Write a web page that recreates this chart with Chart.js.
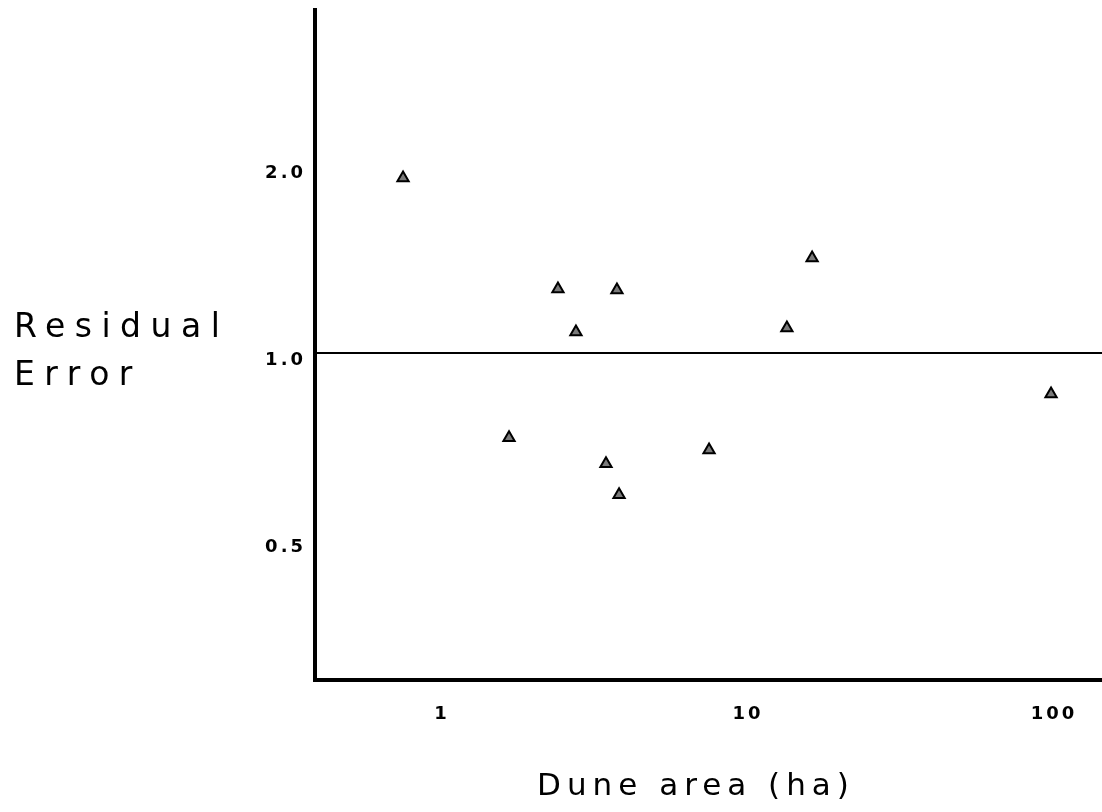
<!DOCTYPE html>
<html>
<head>
<meta charset="utf-8">
<script src="https://cdn.jsdelivr.net/npm/chart.js@4.4.1/dist/chart.umd.min.js"></script>
<style>
  html, body { margin: 0; padding: 0; background: #fff; }
  canvas { display: block; }
</style>
</head>
<body>
<canvas id="residualChart" width="1102" height="812"></canvas>
<script>
// 데이터
const areaHa   = [0.746, 1.656, 2.393, 2.74, 3.435, 3.73, 3.79, 7.46, 13.4, 16.2, 97.8];
const residual = [1.913, 0.730, 1.268, 1.081, 0.663, 1.263, 0.591, 0.698, 1.097, 1.422, 0.859];

const xTicks = [1, 10, 100];
const xTickLabels = ["1", "10", "100"];
const yTicks = [0.5, 1.0, 2.0];
const yTickLabels = ["0.5", "1.0", "2.0"];

// 축 범위
const xMin = 0.3846, xMax = 143.5;
const yMin = 0.2975, yMax = 3.566;
const refLine = 1.0;

const FONT = "'DejaVu Sans', sans-serif";

// 축 제목 + 자간
const titlesPlugin = {
  id: "titles",
  beforeDraw(chart) {
    chart.ctx.letterSpacing = "3px";
  },
  afterDraw(chart) {
    const ctx = chart.ctx;
    ctx.save();
    ctx.fillStyle = "#000";
    ctx.textBaseline = "alphabetic";
    ctx.font = "33px " + FONT;
    ctx.letterSpacing = "9.5px";
    ctx.textAlign = "left";
    ctx.fillText("Residual", 14, 337);
    ctx.fillText("Error", 14, 385);
    ctx.font = "31px " + FONT;
    ctx.letterSpacing = "6px";
    ctx.textAlign = "center";
    ctx.fillText("Dune area (ha)", 696, 795);
    ctx.restore();
  }
};

const points = areaHa.map((x, i) => ({ x, y: residual[i] }));

new Chart(document.getElementById("residualChart"), {
  type: "scatter",
  data: {
    datasets: [
      {
        data: points,
        pointStyle: "triangle",
        pointRadius: 6.5,
        pointBackgroundColor: "#7a7a7a",
        pointBorderColor: "#000",
        pointBorderWidth: 2
      },
      {
        type: "line",
        data: [{ x: xMin, y: refLine }, { x: xMax, y: refLine }],
        borderColor: "#000",
        borderWidth: 2,
        pointRadius: 0,
        fill: false
      }
    ]
  },
  options: {
    responsive: false,
    animation: false,
    devicePixelRatio: 1,
    layout: { autoPadding: false, padding: { top: 10, left: 0, right: 0, bottom: 0 } },
    plugins: { legend: { display: false }, tooltip: { enabled: false } },
    scales: {
      x: {
        type: "logarithmic",
        min: xMin,
        max: xMax,
        afterBuildTicks: s => { s.ticks = xTicks.map(v => ({ value: v })); },
        afterFit: s => { s.height = 132; s.paddingLeft = 0; s.paddingRight = 0; },
        grid: { display: false, drawTicks: false },
        border: { display: true, color: "#000", width: 4 },
        ticks: {
          padding: 24,
          color: "#000",
          font: { family: FONT, size: 18, weight: "bold" },
          autoSkip: false,
          maxRotation: 0,
          callback: v => xTickLabels[xTicks.indexOf(v)] ?? ""
        }
      },
      y: {
        type: "logarithmic",
        min: yMin,
        max: yMax,
        afterBuildTicks: s => { s.ticks = yTicks.map(v => ({ value: v })); },
        afterFit: s => { s.width = 315; s.paddingTop = 0; s.paddingBottom = 0; },
        grid: { display: false, drawTicks: false },
        border: { display: true, color: "#000", width: 4 },
        ticks: {
          padding: 9,
          labelOffset: 7,
          color: "#000",
          font: { family: FONT, size: 18, weight: "bold" },
          autoSkip: false,
          callback: v => yTickLabels[yTicks.indexOf(v)] ?? ""
        }
      }
    }
  },
  plugins: [titlesPlugin]
});
</script>
</body>
</html>
